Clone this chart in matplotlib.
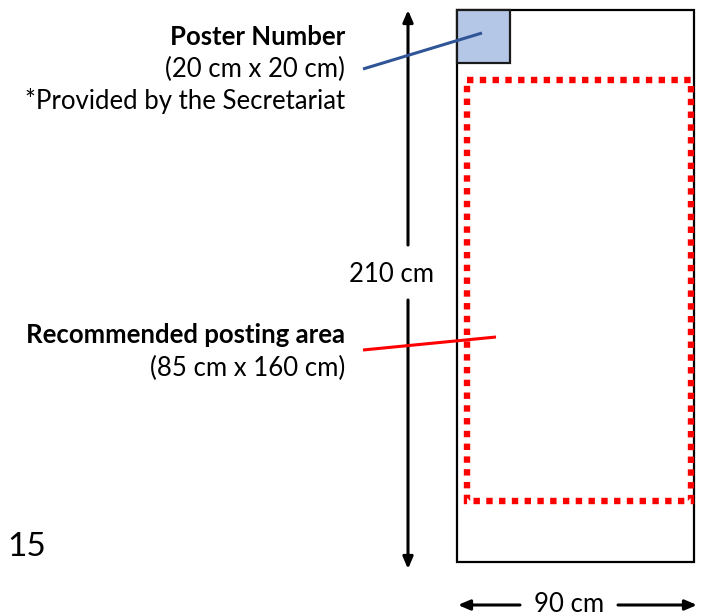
import matplotlib
matplotlib.use("Agg")
import matplotlib.pyplot as plt
from matplotlib.patches import Rectangle

plt.rcParams['font.family'] = ['Lato', 'DejaVu Sans']

# sizes in cm
poster_size = (90, 210)
number_size = (20, 20)
area_size = (85, 160)
area_offset = (3.8, 26.6)          # top-left corner of posting area inside poster

number_label = ["Poster Number", "(20 cm x 20 cm)", "*Provided by the Secretariat"]
area_label = ["Recommended posting area", "(85 cm x 160 cm)"]
height_label = "210 cm"
width_label = "90 cm"
page_label = "15"

# px per cm and where the poster sits in the 702x616 picture
scale = 2.63
ox, oy = 457, 10
fs = 18.5


def px(x, y):
    return (x - ox) / scale, (y - oy) / scale


fig = plt.figure(figsize=(7.02, 6.16), dpi=100)
ax = fig.add_axes([0, 0, 1, 1])
ax.set_xlim(-ox / scale, (702 - ox) / scale)
ax.set_ylim((616 - oy) / scale, -oy / scale)
ax.axis('off')

# poster outline
ax.add_patch(Rectangle((0, 0), poster_size[0], poster_size[1], fill=False,
                       ec='black', lw=1.6, zorder=2))
# poster number square
ax.add_patch(Rectangle((0, 0), number_size[0], number_size[1], fc='#b4c7e7',
                       ec='#1a1a1a', lw=1.6, zorder=3))
# recommended posting area
ax.add_patch(Rectangle(area_offset, area_size[0], area_size[1], fill=False,
                       ec='#ff0000', lw=4.6, ls=(0, (1, 1)), zorder=2))

# vertical 210 cm arrow, split around the label
ax_x = px(408, 0)[0]
head = dict(arrowstyle='-|>,head_length=0.7,head_width=0.3', color='black',
            lw=2.2, shrinkA=0, shrinkB=0)
ax.annotate('', xy=(ax_x, 0), xytext=(ax_x, px(0, 245)[1]), arrowprops=head)
ax.annotate('', xy=(ax_x, px(0, 569)[1]), xytext=(ax_x, px(0, 300)[1]), arrowprops=head)
ax.text(*px(391, 275), height_label, ha='center', va='center', fontsize=fs)

# horizontal 90 cm arrows
hy = px(0, 605)[1]
ax.annotate('', xy=(px(458, 0)[0], hy), xytext=(px(520, 0)[0], hy), arrowprops=head)
ax.annotate('', xy=(px(697, 0)[0], hy), xytext=(px(618, 0)[0], hy), arrowprops=head)
ax.text(*px(569, 604), width_label, ha='center', va='center', fontsize=fs)

# leader lines
ax.plot(*zip(px(363, 69), px(482, 33)), color='#2f5597', lw=2.2, zorder=4,
        solid_capstyle='butt')
ax.plot(*zip(px(363, 350), px(496, 337)), color='#ff0000', lw=2.2, zorder=4,
        solid_capstyle='butt')

# labels
for i, (s, y) in enumerate(zip(number_label, [37, 69, 101])):
    ax.text(*px(345, y), s, ha='right', va='center', fontsize=fs,
            fontweight='bold' if i == 0 else 'normal')
for i, (s, y) in enumerate(zip(area_label, [335, 368])):
    ax.text(*px(345, y), s, ha='right', va='center', fontsize=fs,
            fontweight='bold' if i == 0 else 'normal')

ax.text(*px(7, 547), page_label, ha='left', va='center', fontsize=24)

fig.savefig('out.png', dpi=100, facecolor='white')
